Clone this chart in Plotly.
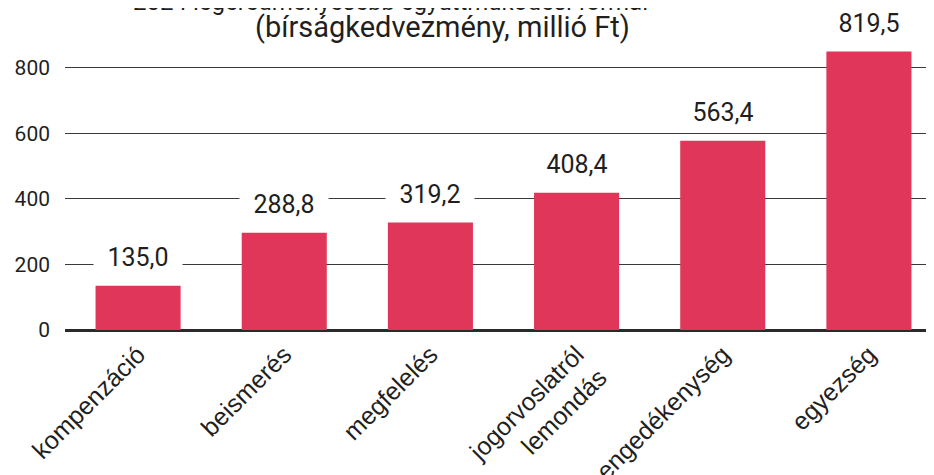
import plotly.graph_objects as go

BAR_COLOR = '#E0365A'
TEXT_COLOR = '#1f1f1f'

categories = ['kompenzáció', 'beismerés', 'megfelelés', 'jogorvoslatról<br>lemondás',
              'engedékenység', 'egyezség']
values = [135, 297, 328, 419, 578, 850]
value_labels = ['135,0', '288,8', '319,2', '408,4', '563,4', '819,5']
title_lines = ['2024 legeredményesebb együttműködési formái', '(bírságkedvezmény, millió Ft)']
y_ticks = [0, 200, 400, 600, 800]

fig = go.Figure(go.Bar(
    x=categories,
    y=values,
    marker=dict(color=BAR_COLOR, line=dict(width=0)),
    hoverinfo='skip'
))

for cat, val, lab in zip(categories, values, value_labels):
    fig.add_annotation(
        x=cat, y=val, text=lab, showarrow=False,
        yanchor='middle', yshift=29,
        width=86, height=30, bgcolor='white',
        font=dict(family='Roboto', size=25, color=TEXT_COLOR)
    )

# page body has an 8px margin, so the plot is placed 8px up/left of the target
fig.add_annotation(xref='paper', yref='paper', x=0.371, y=1, yanchor='middle', yshift=43,
                   text=title_lines[0], showarrow=False,
                   font=dict(family='Roboto', size=24, color=TEXT_COLOR))
fig.add_annotation(xref='paper', yref='paper', x=0.430, y=1, yanchor='middle', yshift=18,
                   text=title_lines[1], showarrow=False,
                   font=dict(family='Roboto', size=29, color=TEXT_COLOR))

fig.update_layout(
    width=934, height=475,
    margin=dict(l=57, r=0, t=37, b=153, autoexpand=False),
    paper_bgcolor='white', plot_bgcolor='white',
    bargap=0.418,
    showlegend=False,
    xaxis=dict(
        range=[-0.5, 5.5], tickangle=-45, showgrid=False, ticks='',
        tickfont=dict(family='Liberation Sans', size=25, color=TEXT_COLOR),
        showline=False, zeroline=False, automargin=False, ticklabelstandoff=4
    ),
    yaxis=dict(
        range=[0, 870], tickvals=y_ticks, showgrid=True, gridcolor='#3a3a3a', gridwidth=1.2,
        zeroline=True, zerolinecolor='#2a2a2a', zerolinewidth=2.5,
        ticks='', ticklabelstandoff=14, automargin=False,
        tickfont=dict(family='Roboto', size=21, color=TEXT_COLOR)
    )
)

fig.write_html("out.html")
